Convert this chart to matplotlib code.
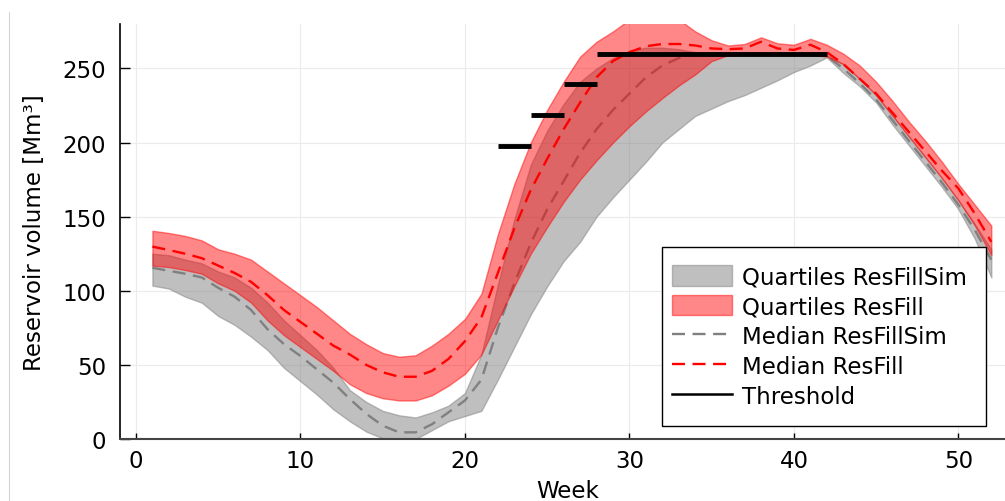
import matplotlib
matplotlib.use('Agg')
import matplotlib.pyplot as plt
from matplotlib.lines import Line2D
from matplotlib.patches import Rectangle

plt.rcParams['font.family'] = ['DejaVu Sans']

weeks = list(range(1, 53))

# Simulated reservoir filling (ResFillSim): quartiles and median
sim_q75 = [125, 124, 121, 118.5, 113, 109, 102, 92, 80, 70, 60, 48,
           33, 25, 19, 16, 14.5, 18, 22.5, 31, 57, 104, 148, 185, 208, 226,
           241, 250, 257, 262, 264, 264, 263, 261, 260, 260, 260, 260, 260, 260,
           260, 259, 253, 243, 232, 218, 204, 190, 176, 161, 145, 128]
sim_med = [115.5, 113.5, 111.5, 109, 102, 96, 87, 74, 64, 56, 47, 38,
           27, 17, 9, 4.5, 4.5, 10, 18, 26, 40, 75, 105, 132, 155, 174,
           193, 209, 222, 233, 244, 252, 257, 259.5, 260, 260, 260, 260, 260, 260,
           260, 258.5, 250, 240, 229, 215, 201, 187, 173, 158, 141, 121]
sim_q25 = [103.5, 101.5, 96, 92, 83, 77, 69, 60, 48, 39, 30, 20,
           12, 5, 0.5, 0, 0, 6, 12, 15.5, 19, 40, 62, 84, 103, 120,
           133, 150, 163, 175, 187, 200, 209, 218, 223, 228, 232, 237, 242, 247.6,
           252, 257.5, 247, 238, 227, 212, 198, 184, 170, 155, 135, 109]

# Observed reservoir filling (ResFill): quartiles and median
obs_q75 = [140.5, 139, 137, 134, 128, 125, 121, 113, 105, 97, 89, 80,
           71, 64, 58, 55.5, 56.5, 63, 71, 81, 98, 138, 172, 200, 222, 241,
           258, 268, 275, 283, 285, 285, 283, 275, 269, 265.5, 266.5, 271, 267, 266,
           270, 266, 260, 252, 241, 228, 214, 201, 187, 172, 158, 144]
obs_med = [129.8, 127.5, 125, 122, 117, 112, 106, 97, 87, 79, 71, 63,
           57, 50, 45, 42, 42, 46, 54, 66, 82, 112, 142, 168, 189, 209,
           227, 244, 255, 261, 265, 266.5, 266.5, 265.5, 263.5, 263, 263.5, 268, 263.5, 262.5,
           266, 261, 253, 243, 233, 220, 207, 194, 181, 169, 152, 133]
obs_q25 = [117, 116, 114, 111.5, 105, 100, 92, 80, 70, 62, 54, 46,
           37, 31, 27.5, 26, 26, 29.5, 36, 44, 57, 80, 103, 125, 143, 160,
           175, 188, 200, 211, 221, 230, 238.5, 246, 255, 259, 259.5, 259.5, 259.5, 259.5,
           259.5, 258, 253, 243, 232, 218, 204, 190, 176, 161, 144, 124]

# Threshold steps
thr_start = [22, 24, 26, 28]
thr_end = [24, 26, 28, 42]
thr_level = [197.6, 218.4, 239.2, 260.0]

x_ticks = [0, 10, 20, 30, 40, 50]
y_ticks = [0, 50, 100, 150, 200, 250]

FS = 16.5
W, H = 1005, 502
fig = plt.figure(figsize=(W / 100, H / 100), dpi=100)
ax = fig.add_axes([120 / W, 62 / H, 895 / W, 415 / H])

f_sim = ax.fill_between(weeks, sim_q25, sim_q75, color='gray', alpha=0.5, lw=1.0, zorder=2)
l_sim, = ax.plot(weeks, sim_med, color='gray', lw=1.7, ls=(0, (5.5, 3.2)), zorder=3)
f_obs = ax.fill_between(weeks, obs_q25, obs_q75, color='red', alpha=0.47, lw=1.0, zorder=4)
l_obs, = ax.plot(weeks, obs_med, color='red', lw=1.7, ls=(0, (5.5, 3.2)), zorder=5)
ax.hlines(thr_level, thr_start, thr_end, color='black', lw=3.5, zorder=6)

ax.set_xlim(-0.97, 53.44)
ax.set_ylim(0, 280)
ax.set_xticks(x_ticks)
ax.set_yticks(y_ticks)
ax.grid(True, color='#ebebeb', lw=0.8, zorder=0)
ax.set_axisbelow(True)

for s in ['top', 'right']:
    ax.spines[s].set_visible(False)
ax.spines['left'].set_color('black')
ax.spines['left'].set_linewidth(1.2)
ax.spines['bottom'].set_color('#444444')
ax.spines['bottom'].set_linewidth(1.5)

ax.tick_params(axis='y', direction='in', length=7.5, width=1.0, pad=10, labelsize=FS)
ax.tick_params(axis='x', direction='in', length=4.3, width=1.0, pad=7, labelsize=FS)

ax.set_xlabel('Week', fontsize=FS, labelpad=5)
ax.set_ylabel('Reservoir volume [Mm³]', fontsize=FS, labelpad=12)

handles = [f_sim, f_obs, l_sim, l_obs, Line2D([], [], color='black', lw=1.8)]
labels = ['Quartiles ResFillSim', 'Quartiles ResFill', 'Median ResFillSim',
          'Median ResFill', 'Threshold']
leg = ax.legend(handles, labels, loc='upper left',
                bbox_to_anchor=(671.7 / W, 1 - 266.0 / H), bbox_transform=fig.transFigure,
                frameon=False, fontsize=FS, handlelength=2.62, handleheight=1.0,
                handletextpad=0.45, borderpad=0.0, labelspacing=0.3, borderaxespad=0)
leg.set_zorder(10)

frame = Rectangle((661.7 / W, 1 - 426.7 / H), (986 - 661.7) / W, (426.7 - 248.3) / H,
                  transform=fig.transFigure, facecolor='white', edgecolor='black',
                  lw=1.0, zorder=9, clip_on=False)
ax.add_patch(frame)

fig.add_artist(Line2D([9.3 / W, 9.3 / W], [0, 1 - 13 / H], transform=fig.transFigure,
                      color='#d4d4d4', lw=0.8))

fig.savefig('out.png', dpi=100)
